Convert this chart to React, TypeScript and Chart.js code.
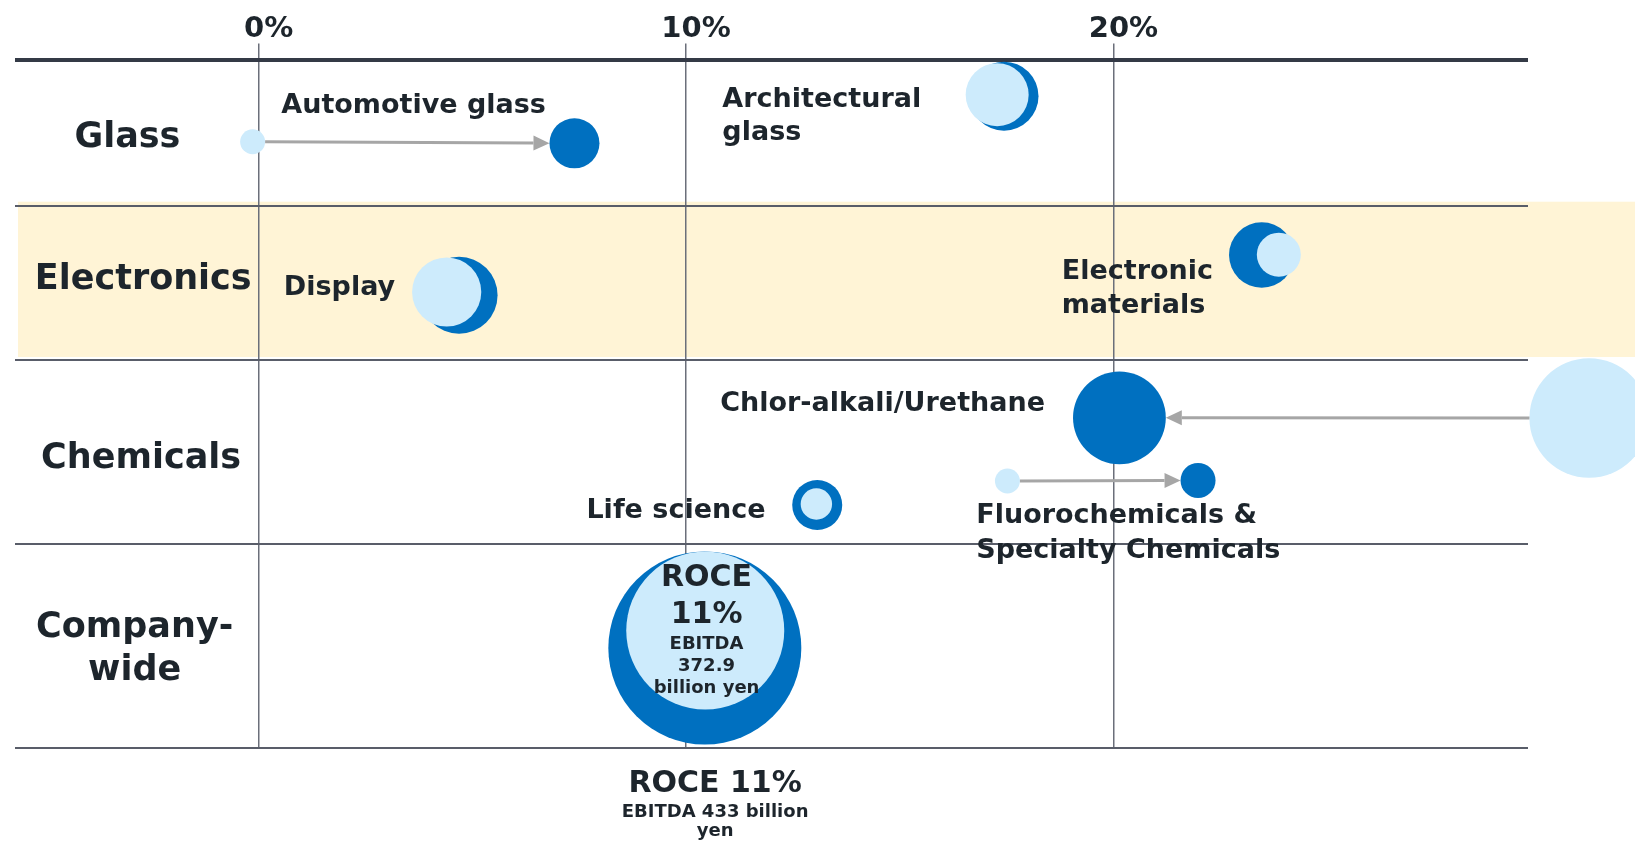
import { useEffect, useRef } from 'react';
import { Chart, registerables } from 'chart.js';

Chart.register(...registerables);

// ---- Data (x = ROCE %, y = vertical position within the table, 0 = top, 100 = bottom) ----
const segments = [
  'Automotive glass',
  'Architectural glass',
  'Display',
  'Electronic materials',
  'Chlor-alkali/Urethane',
  'Fluorochemicals & Specialty Chemicals',
  'Life science',
  'Company-wide',
];
// light bubbles (base)
const baseRoce = [-0.14, 17.28, 4.4, 23.87, 31.13, 17.52, 13.05, 10.45];
const basePos = [11.95, 5.12, 33.79, 28.37, 52.11, 61.26, 64.61, 83.0];
const baseSize = [12.5, 31.5, 34.6, 22, 59.7, 12.5, 15.7, 79];
// dark bubbles (target)
const targetRoce = [7.39, 17.44, 4.69, 23.47, 20.14, 21.98, 13.07, 10.44];
const targetPos = [12.18, 5.33, 34.26, 28.42, 52.08, 61.19, 64.75, 85.54];
const targetSize = [25, 34.5, 38.5, 32.7, 46.4, 17.5, 25, 96.5];

const xTicks = [0, 10, 20];
const rowEdges = [0, 21.29, 43.68, 70.42, 100];
const electronicsBand = [20.67, 43.24];

const companyRoce = [11, 11];
const companyEbitda = [372.9, 433];

const rowLabels = [
  { text: 'Glass', x: -3.07, y: 12.67 },
  { text: 'Electronics', x: -2.7, y: 33.4 },
  { text: 'Chemicals', x: -2.75, y: 59.42 },
  { text: 'Company-', x: -2.9, y: 83.9 },
  { text: 'wide', x: -2.9, y: 90.19 },
];

const segmentLabels = [
  { text: 'Automotive glass', x: 0.53, y: 7.82, align: 'left' },
  { text: 'Architectural', x: 10.85, y: 6.95, align: 'left' },
  { text: 'glass', x: 10.85, y: 11.7, align: 'left' },
  { text: 'Display', x: 0.59, y: 34.23, align: 'left' },
  { text: 'Electronic', x: 18.79, y: 31.95, align: 'left' },
  { text: 'materials', x: 18.79, y: 36.89, align: 'left' },
  { text: 'Chlor-alkali/Urethane', x: 10.8, y: 51.05, align: 'left' },
  { text: 'Life science', x: 11.86, y: 66.69, align: 'right' },
  { text: 'Fluorochemicals &', x: 16.79, y: 67.41, align: 'left' },
  { text: 'Specialty Chemicals', x: 16.79, y: 72.5, align: 'left' },
];

const companyLabels = [
  { text: `ROCE`, x: 10.48, y: 76.53, size: 30 },
  { text: `${companyRoce[0]}%`, x: 10.48, y: 81.95, size: 30 },
  { text: 'EBITDA', x: 10.48, y: 85.68, size: 18 },
  { text: `${companyEbitda[0]}`, x: 10.48, y: 88.88, size: 18 },
  { text: 'billion yen', x: 10.48, y: 92.12, size: 18 },
  { text: `ROCE ${companyRoce[1]}%`, x: 10.68, y: 106.4, size: 30 },
  { text: `EBITDA ${companyEbitda[1]} billion`, x: 10.68, y: 110.06, size: 18 },
  { text: 'yen', x: 10.68, y: 112.9, size: 18 },
];

const FONT = '"DejaVu Sans", "Noto Sans", sans-serif';
const TEXT = '#1d252c';
const LIGHT = '#CDEBFC';
const DARK = '#0070C0';
const BAND = '#FFF4D6';
const ARROW = '#A6A6A6';

const tablePlugin = {
  id: 'tableDecor',
  beforeDraw(chart: any) {
    const { ctx, scales } = chart;
    const x = scales.x;
    const y = scales.y;
    const top = y.getPixelForValue(electronicsBand[0]);
    const bottom = y.getPixelForValue(electronicsBand[1]);
    const left = x.getPixelForValue(-5.63);
    ctx.save();
    ctx.fillStyle = BAND;
    ctx.fillRect(left, top, chart.width - left, bottom - top);
    ctx.restore();
  },
  afterDatasetsDraw(chart: any) {
    const { ctx, scales, chartArea } = chart;
    const x = scales.x;
    const y = scales.y;
    // bubbles whose centre lies outside the plot area (skipped by Chart.js) are drawn unclipped
    const full = { left: -1e4, top: -1e4, right: 1e4, bottom: 1e4 };
    chart.data.datasets.forEach((_: any, di: number) => {
      chart.getDatasetMeta(di).data.forEach((el: any) => {
        const r = el.options.radius || 0;
        const outside =
          el.x > chartArea.right + r * 0.5 ||
          el.x < chartArea.left - r * 0.5 ||
          el.y > chartArea.bottom + r * 0.5 ||
          el.y < chartArea.top - r * 0.5;
        if (outside) el.draw(ctx, full);
      });
    });
    ctx.save();
    // arrows between separated bubble pairs
    ctx.strokeStyle = ARROW;
    ctx.fillStyle = ARROW;
    ctx.lineWidth = 3;
    for (let i = 0; i < segments.length; i++) {
      const xb = x.getPixelForValue(baseRoce[i]);
      const yb = y.getPixelForValue(basePos[i]);
      const xt = x.getPixelForValue(targetRoce[i]);
      const yt = y.getPixelForValue(targetPos[i]);
      const dx = xt - xb;
      const dy = yt - yb;
      const d = Math.hypot(dx, dy);
      if (d < baseSize[i] + targetSize[i] + 10) continue;
      const ux = dx / d;
      const uy = dy / d;
      const sx = xb + ux * baseSize[i];
      const sy = yb + uy * baseSize[i];
      const ex = xt - ux * targetSize[i];
      const ey = yt - uy * targetSize[i];
      const hl = 16;
      const hw = 7.5;
      const bx = ex - ux * hl;
      const by = ey - uy * hl;
      ctx.beginPath();
      ctx.moveTo(sx, sy);
      ctx.lineTo(bx, by);
      ctx.stroke();
      ctx.beginPath();
      ctx.moveTo(ex, ey);
      ctx.lineTo(bx - uy * hw, by + ux * hw);
      ctx.lineTo(bx + uy * hw, by - ux * hw);
      ctx.closePath();
      ctx.fill();
    }
    // text
    ctx.fillStyle = TEXT;
    ctx.textBaseline = 'alphabetic';
    ctx.font = `bold 35px ${FONT}`;
    ctx.textAlign = 'center';
    rowLabels.forEach((l) => ctx.fillText(l.text, x.getPixelForValue(l.x), y.getPixelForValue(l.y)));
    ctx.font = `bold 27px ${FONT}`;
    segmentLabels.forEach((l) => {
      ctx.textAlign = l.align;
      ctx.fillText(l.text, x.getPixelForValue(l.x), y.getPixelForValue(l.y));
    });
    ctx.textAlign = 'center';
    companyLabels.forEach((l) => {
      ctx.font = `bold ${l.size}px ${FONT}`;
      ctx.fillText(l.text, x.getPixelForValue(l.x), y.getPixelForValue(l.y));
    });
    ctx.restore();
  },
};

export default function App() {
  const ref = useRef<HTMLCanvasElement>(null);
  useEffect(() => {
    if (!ref.current) return;
    Chart.defaults.font.family = FONT;
    const chart = new Chart(ref.current, {
      type: 'bubble',
      data: {
        datasets: [
          {
            label: 'Base',
            data: segments.map((_, i) => ({ x: baseRoce[i], y: basePos[i], r: baseSize[i] })),
            backgroundColor: LIGHT,
            borderWidth: 0,
            hoverBorderWidth: 0,
            hoverRadius: 0,
            clip: false as any,
          },
          {
            label: 'Target',
            data: segments.map((_, i) => ({ x: targetRoce[i], y: targetPos[i], r: targetSize[i] })),
            backgroundColor: DARK,
            borderWidth: 0,
            hoverBorderWidth: 0,
            hoverRadius: 0,
            clip: false as any,
          },
        ],
      },
      options: {
        responsive: false,
        animation: false,
        events: [],
        layout: { autoPadding: false, padding: { left: 15, right: 107, top: 0, bottom: 93.5 } },
        plugins: { legend: { display: false }, tooltip: { enabled: false } },
        scales: {
          x: {
            type: 'linear',
            position: 'top',
            min: -5.7,
            max: 29.7,
            afterBuildTicks: (s: any) => {
              s.ticks = xTicks.map((v) => ({ value: v }));
            },
            afterFit: (s: any) => {
              s.height = 59.5;
            },
            ticks: {
              autoSkip: false,
              maxRotation: 0,
              padding: -3,
              labelOffset: 10,
              color: TEXT,
              font: { size: 29, weight: 'bold' },
              callback: (v: any) => `${v}%`,
            },
            grid: { color: '#6b6f7a', lineWidth: 1.5, tickLength: 16, drawTicks: true },
            border: { display: false },
          },
          y: {
            type: 'linear',
            position: 'left',
            reverse: true,
            min: 0,
            max: 100,
            afterBuildTicks: (s: any) => {
              s.ticks = rowEdges.map((v) => ({ value: v }));
            },
            ticks: { display: false },
            grid: {
              drawTicks: false,
              color: (c: any) => (c.index === 0 ? '#343a46' : '#595d69'),
              lineWidth: (c: any) => (c.index === 0 ? 4 : 2),
            },
            border: { display: false },
          },
        },
      },
      plugins: [tablePlugin],
    } as any);
    return () => chart.destroy();
  }, []);
  return (
    <div style={{ position: 'fixed', left: 0, top: 0, width: 1635, height: 841, background: '#fff', overflow: 'hidden' }}>
      <canvas ref={ref} width={1635} height={841} style={{ display: 'block' }} />
    </div>
  );
}
